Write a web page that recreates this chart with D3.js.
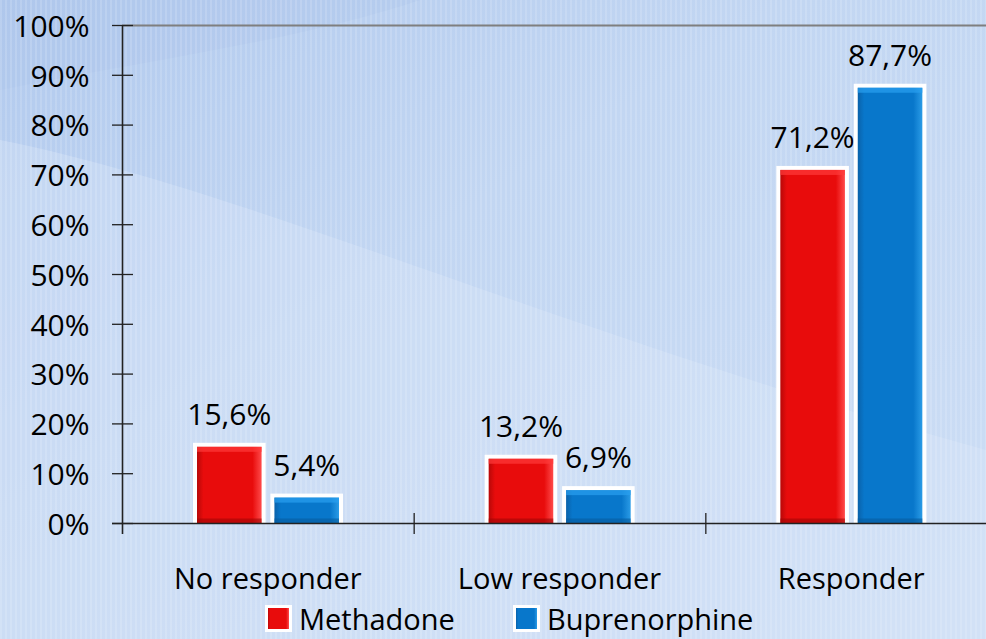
<!DOCTYPE html>
<html>
<head>
<meta charset="utf-8">
<script src="https://cdn.jsdelivr.net/npm/d3@7"></script>
<style>
    body { margin: 0; padding: 0; overflow: hidden; }
    svg text { font-family: "Open Sans", "Noto Sans", sans-serif; fill: #000; }
</style>
</head>
<body>
<div id="chart"></div>
<script>
var categories = ["No responder", "Low responder", "Responder"];
var seriesNames = ["Methadone", "Buprenorphine"];
var methadone = [15.6, 13.2, 71.2];
var buprenorphine = [5.4, 6.9, 87.7];
var yTicks = [0, 10, 20, 30, 40, 50, 60, 70, 80, 90, 100];

var width = 986, height = 639;
var svg = d3.select("#chart").append("svg")
        .attr("width", width)
        .attr("height", height);

var defs = svg.append("defs");

// background
var bg = defs.append("linearGradient").attr("id", "bg")
        .attr("x1", "0").attr("y1", "0").attr("x2", "1").attr("y2", "1");
bg.append("stop").attr("offset", "0%").attr("stop-color", "#b2caee");
bg.append("stop").attr("offset", "40%").attr("stop-color", "#c2d6f2");
bg.append("stop").attr("offset", "100%").attr("stop-color", "#cddef5");

var stripes = defs.append("pattern").attr("id", "stripes")
        .attr("width", 5).attr("height", 10)
        .attr("patternUnits", "userSpaceOnUse");
stripes.append("rect").attr("width", 2).attr("height", 10)
        .attr("fill", "#ffffff").attr("opacity", 0.14);

// bar gradients
function barGradient(id, dark, mid, light) {
    var g = defs.append("linearGradient").attr("id", id)
            .attr("x1", "0").attr("y1", "0").attr("x2", "1").attr("y2", "0");
    g.append("stop").attr("offset", "0%").attr("stop-color", dark);
    g.append("stop").attr("offset", "10%").attr("stop-color", mid);
    g.append("stop").attr("offset", "86%").attr("stop-color", mid);
    g.append("stop").attr("offset", "100%").attr("stop-color", light);
}
barGradient("gRed", "#b80808", "#e80c0c", "#ff4a4a");
barGradient("gBlue", "#0a62aa", "#0877cb", "#2a9be6");

var colors = {Methadone: "url(#gRed)", Buprenorphine: "url(#gBlue)"};
var edgeTop = {Methadone: "#ff3a3a", Buprenorphine: "#2aa0f0"};
var edgeBottom = {Methadone: "#a00606", Buprenorphine: "#075c9e"};

svg.append("rect").attr("width", width).attr("height", height).attr("fill", "url(#bg)");
// lighter diagonal band at the bottom left
svg.append("path")
        .attr("d", "M0,140 C250,190 550,330 986,450 L986,639 L0,639 Z")
        .attr("fill", "#dde9f9").attr("opacity", 0.35);
svg.append("path")
        .attr("d", "M0,0 L420,0 C300,40 150,60 0,90 Z")
        .attr("fill", "#a7c0e8").attr("opacity", 0.25);
svg.append("rect").attr("width", width).attr("height", height).attr("fill", "url(#stripes)");

// scales
var y = d3.scaleLinear().domain([0, 100]).range([523.5, 25.5]);
var x0 = d3.scaleBand().domain(categories).range([122, 997]);
var x1 = d3.scaleBand().domain(seriesNames).range([74, 218]).paddingInner(0.14);

var fmt = function (v) { return v.toFixed(1).replace(".", ",") + "%"; };

// top frame line
svg.append("line")
        .attr("x1", 122).attr("x2", width)
        .attr("y1", y(100)).attr("y2", y(100))
        .attr("stroke", "#7f7f7f").attr("stroke-width", 2);

// y axis
var yAxis = svg.append("g")
        .attr("transform", "translate(122.5,0)")
        .call(d3.axisLeft(y).tickValues(yTicks)
                .tickSize(0).tickPadding(33)
                .tickFormat(function (d) { return d + "%"; }));
yAxis.select(".domain").remove();
yAxis.selectAll("text").style("font-size", "30px").attr("dy", "0.36em");

svg.append("g").selectAll("line")
        .data(yTicks)
        .enter().append("line")
        .attr("x1", 112).attr("x2", 133)
        .attr("y1", function (d) { return y(d); })
        .attr("y2", function (d) { return y(d); })
        .attr("stroke", "#222").attr("stroke-width", 1.3);

svg.append("line")
        .attr("x1", 122.5).attr("x2", 122.5)
        .attr("y1", y(100)).attr("y2", 534)
        .attr("stroke", "#222").attr("stroke-width", 1.6);

// bars
var groups = svg.selectAll(".cat")
        .data(categories)
        .enter().append("g")
        .attr("class", "cat")
        .attr("transform", function (d) { return "translate(" + x0(d) + ",0)"; });

var bars = groups.selectAll(".bar")
        .data(function (d, i) {
            return [
                {name: "Methadone", value: methadone[i]},
                {name: "Buprenorphine", value: buprenorphine[i]}
            ];
        })
        .enter().append("g")
        .attr("class", "bar");

bars.append("rect")
        .attr("x", function (d) { return x1(d.name) - 3; })
        .attr("y", function (d) { return y(d.value) - 3; })
        .attr("width", x1.bandwidth() + 6)
        .attr("height", function (d) { return y(0) - y(d.value) + 3; })
        .attr("fill", "#ffffff");

bars.append("rect")
        .attr("x", function (d) { return x1(d.name) + 1; })
        .attr("y", function (d) { return y(d.value) + 1; })
        .attr("width", x1.bandwidth() - 2)
        .attr("height", function (d) { return y(0) - y(d.value) - 1; })
        .attr("fill", function (d) { return colors[d.name]; });

// bevel edges
bars.append("rect")
        .attr("x", function (d) { return x1(d.name) + 1; })
        .attr("y", function (d) { return y(d.value) + 1; })
        .attr("width", x1.bandwidth() - 2)
        .attr("height", 5)
        .attr("fill", function (d) { return edgeTop[d.name]; })
        .attr("opacity", 0.7);
bars.append("rect")
        .attr("x", function (d) { return x1(d.name) + 1; })
        .attr("y", y(0) - 5)
        .attr("width", x1.bandwidth() - 2)
        .attr("height", 5)
        .attr("fill", function (d) { return edgeBottom[d.name]; })
        .attr("opacity", 0.6);

bars.append("text")
        .attr("x", function (d) { return x1(d.name) + x1.bandwidth() / 2; })
        .attr("y", function (d) { return y(d.value) - 21; })
        .attr("text-anchor", "middle")
        .style("font-size", "30px")
        .text(function (d) { return fmt(d.value); });

// x axis
svg.append("line")
        .attr("x1", 112).attr("x2", width)
        .attr("y1", y(0)).attr("y2", y(0))
        .attr("stroke", "#222").attr("stroke-width", 1.6);

svg.append("g").selectAll("line")
        .data(categories.slice(1))
        .enter().append("line")
        .attr("x1", function (d) { return x0(d) + 0.5; })
        .attr("x2", function (d) { return x0(d) + 0.5; })
        .attr("y1", 513).attr("y2", 534)
        .attr("stroke", "#222").attr("stroke-width", 1.3);

svg.append("g").selectAll("text")
        .data(categories)
        .enter().append("text")
        .attr("x", function (d) { return x0(d) + x0.bandwidth() / 2; })
        .attr("y", 589)
        .attr("text-anchor", "middle")
        .style("font-size", "29px")
        .text(function (d) { return d; });

// legend
var legendX = [265, 513];
var legend = svg.append("g").selectAll("g")
        .data(seriesNames)
        .enter().append("g")
        .attr("transform", function (d, i) { return "translate(" + legendX[i] + ",605)"; });

legend.append("rect")
        .attr("width", 27).attr("height", 27)
        .attr("fill", "#ffffff");
legend.append("rect")
        .attr("x", 3).attr("y", 3)
        .attr("width", 21).attr("height", 21)
        .attr("fill", function (d) { return colors[d]; });

legend.append("text")
        .attr("x", 34).attr("y", 25)
        .style("font-size", "29px")
        .text(function (d) { return d; });
</script>
</body>
</html>
